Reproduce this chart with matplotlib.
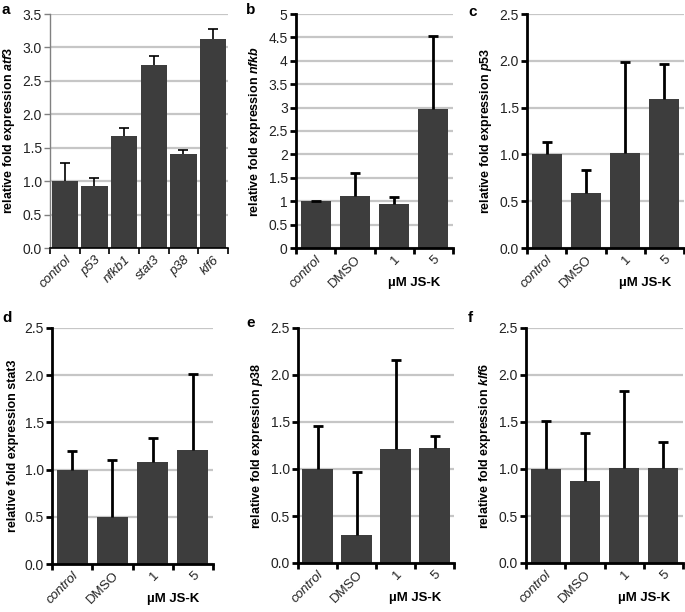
import numpy as np
import matplotlib.pyplot as plt

plt.rcParams['font.family'] = ['Liberation Sans', 'DejaVu Sans']
plt.rcParams['mathtext.fontset'] = 'custom'
plt.rcParams['mathtext.it'] = 'Liberation Sans:italic:bold'
plt.rcParams['mathtext.rm'] = 'Liberation Sans:bold'

# panel a: atf3 after knock-down
genes_a = ['control', 'p53', 'nfkb1', 'stat3', 'p38', 'klf6']
atf3_mean = [1.00, 0.93, 1.68, 2.73, 1.40, 3.13]
atf3_err = [0.27, 0.11, 0.12, 0.14, 0.06, 0.15]

# panels b-f: JS-K treatment
groups = ['control', 'DMSO', '1', '5']
nfkb_mean = [1.00, 1.12, 0.93, 2.96]
nfkb_err = [0.01, 0.48, 0.15, 1.56]
p53_mean = [1.00, 0.59, 1.01, 1.59]
p53_err = [0.13, 0.24, 0.98, 0.38]
stat3_mean = [1.00, 0.50, 1.08, 1.21]
stat3_err = [0.20, 0.60, 0.26, 0.80]
p38_mean = [1.00, 0.30, 1.21, 1.22]
p38_err = [0.46, 0.67, 0.95, 0.13]
klf6_mean = [1.00, 0.87, 1.01, 1.01]
klf6_err = [0.51, 0.51, 0.82, 0.28]

W, H = 685, 612
BAR = '#3d3d3d'
GRID = '#c6c6c6'

fig = plt.figure(figsize=(W / 100, H / 100), dpi=100)


def px_axes(l, t, r, b):
    return fig.add_axes([l / W, 1 - b / H, (r - l) / W, (b - t) / H])


def draw(ax, labels, mean, err, ymax, step, fmt, gene, italic_gene, lw, width, spine_gray=False):
    n = len(labels)
    x = np.arange(n)
    mean = np.array(mean)
    top = mean + np.array(err)
    ax.set_axisbelow(True)
    ax.yaxis.grid(True, color=GRID, linewidth=1.6)
    ax.bar(x, mean, width=width, color=BAR, zorder=2)
    # upper error bars only
    ax.vlines(x, mean, top, color='black', linewidth=lw, zorder=3)
    ax.plot(x, top, ls='none', marker='_', markersize=7, mew=lw, color='black', zorder=3)
    ax.set_xlim(-0.5, n - 0.5)
    ax.set_ylim(0, ymax)
    ticks = np.arange(0, ymax + step / 2, step)
    ax.set_yticks(ticks)
    ax.set_yticklabels([fmt.format(t) for t in ticks], fontsize=10, color='#222222')
    ax.set_xticks(np.arange(n + 1) - 0.5)
    ax.set_xticklabels([])
    ax.set_xticks(x, minor=True)
    ax.set_xticklabels(labels, minor=True, rotation=45, ha='right', rotation_mode='anchor',
                       fontsize=9.5, color='#222222')
    for lab in ax.get_xticklabels(minor=True):
        if lab.get_text() not in ('DMSO', '1', '5'):
            lab.set_style('italic')
    ax.tick_params(axis='x', which='minor', length=0, pad=4)
    ax.tick_params(axis='x', which='major', length=4, width=lw, direction='out')
    ax.tick_params(axis='y', length=4, width=lw if not spine_gray else 1, direction='out', pad=2,
                   color='gray' if spine_gray else 'black')
    for s in ('top', 'right'):
        ax.spines[s].set_visible(False)
    ax.spines['bottom'].set_linewidth(lw)
    ax.spines['left'].set_linewidth(1 if spine_gray else lw)
    ax.spines['left'].set_color('gray' if spine_gray else 'black')
    g = r'$\mathit{' + gene + '}$' if italic_gene else gene
    ax.set_ylabel('relative fold expression ' + g, fontsize=9, fontweight='bold', labelpad=4)
    if n == 4:
        ax.annotate('µM JS-K', xy=(2.5, 0), xycoords=('data', 'axes fraction'),
                    xytext=(0, -25), textcoords='offset points', ha='center', va='center',
                    fontsize=9.5, fontweight='bold')


ax = px_axes(50, 14, 228, 248)
draw(ax, genes_a, atf3_mean, atf3_err, 3.5, 0.5, '{:.1f}', 'atf3', True, 1.2, 0.88, spine_gray=True)

ax = px_axes(296, 14, 453, 248)
draw(ax, groups, nfkb_mean, nfkb_err, 5, 0.5, '{:g}', 'nfkb', True, 2, 0.77)

ax = px_axes(527, 14, 684, 248)
draw(ax, groups, p53_mean, p53_err, 2.5, 0.5, '{:.1f}', 'p53', True, 2, 0.77)

ax = px_axes(52, 328, 213, 564)
draw(ax, groups, stat3_mean, stat3_err, 2.5, 0.5, '{:.1f}', 'stat3', False, 2, 0.77)

ax = px_axes(298, 328, 454, 563)
draw(ax, groups, p38_mean, p38_err, 2.5, 0.5, '{:.1f}', 'p38', True, 2, 0.77)

ax = px_axes(526, 328, 683, 563)
draw(ax, groups, klf6_mean, klf6_err, 2.5, 0.5, '{:.1f}', 'klf6', True, 2, 0.77)

# panel letters, placed in figure pixels
letters = ['a', 'b', 'c', 'd', 'e', 'f']
letter_xy = [(2, 3), (246, 3), (468, 5), (2, 311), (246, 316), (468, 311)]
for lt, (lx, ly) in zip(letters, letter_xy):
    fig.text(lx / W, 1 - ly / H, lt, fontsize=11, fontweight='bold', ha='left', va='top')

fig.savefig('out.png', dpi=100)
